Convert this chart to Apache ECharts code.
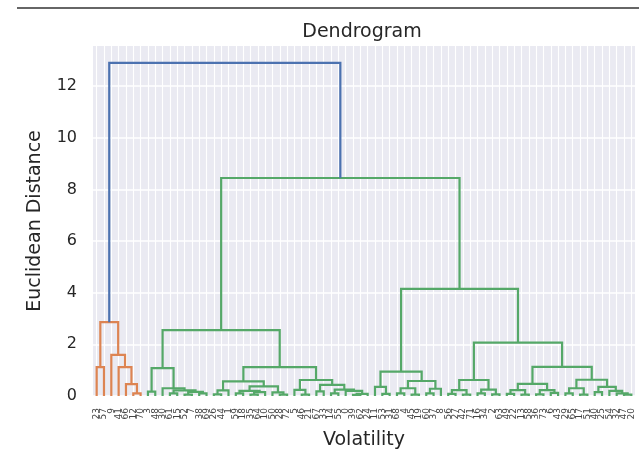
<!DOCTYPE html>
<html>
<head>
<meta charset="utf-8">
<script src="https://cdn.jsdelivr.net/npm/echarts@6/dist/echarts.min.js"></script>
<style>
  html, body { margin: 0; padding: 0; background: #fff; }
  #main { width: 639px; height: 456px; }
</style>
</head>
<body>
<div id="main"></div>
<script>
  // linkage as [height, left, right]; a leaf is the index of the observation
  const orangeCluster = [2.86,
    [1.12, 23, 57],
    [1.59, 9, [1.12, 41, [0.46, 66, [0.1, 12, 70]]]]];

  const greenLeft = [2.55,
    [1.08, [0.17, 3, 48], [0.3, 30, [0.22, [0.1, 61, 15], [0.16, [0.05, 52, 7], [0.1, 38, 69]]]]],
    [1.12,
      [0.57, [0.22, [0.06, 26, 44], 1],
             [0.37, [0.2, [0.1, 59, 18], [0.15, [0.05, 35, 64], 10]], [0.14, 50, [0.05, 28, 72]]]],
      [0.62, [0.24, 5, [0.05, 46, 21]],
             [0.43, [0.18, 67, 33], [0.25, [0.1, 14, 55], [0.2, 0, [0.08, [0.04, 39, 62], 24]]]]]]];

  const greenRight = [4.15,
    [0.94, [0.35, 11, [0.08, 53, 31]],
           [0.58, [0.3, [0.1, 68, 4], [0.05, 45, 19]], [0.28, [0.1, 60, 37], 8]]],
    [2.07,
      [0.62, [0.23, [0.08, 56, 27], [0.05, 42, 71]], [0.25, [0.1, 16, 34], [0.06, 2, 63]]],
      [1.13,
        [0.47, [0.23, [0.08, 49, 22], [0.05, 13, 58]], [0.23, [0.06, 36, 73], [0.12, 6, 43]]],
        [0.63, [0.3, [0.1, 29, 65], [0.05, 17, 51]],
               [0.35, [0.15, 40, 25], [0.2, 54, [0.1, 32, [0.05, 47, 20]]]]]]]];

  const greenHeight = 8.44;
  const rootHeight = 12.9;
  const yMax = 13.55;
  const yTicks = [0, 2, 4, 6, 8, 10, 12];

  const clusterColors = ['#dd8452', '#55a868'];
  const aboveColor = '#4c72b0';
  const threshold = 0.7 * rootHeight;
  const font = 'DejaVu Sans';

  // same layout as scipy: leaf i sits at 10*i + 5
  const leafOrder = [];
  const links = [];
  let colorIdx = 0;
  function walk(node, color) {
    if (!Array.isArray(node)) {
      leafOrder.push(String(node));
      return { x: 10 * leafOrder.length - 5, y: 0 };
    }
    const h = node[0];
    let c = color;
    if (!c && h < threshold) c = clusterColors[colorIdx++ % clusterColors.length];
    const a = walk(node[1], c);
    const b = walk(node[2], c);
    links.push({
      coords: [[a.x, a.y], [a.x, h], [b.x, h], [b.x, b.y]],
      lineStyle: { color: c || aboveColor }
    });
    return { x: (a.x + b.x) / 2, y: h };
  }
  walk([rootHeight, orangeCluster, [greenHeight, greenLeft, greenRight]], null);

  const chart = echarts.init(document.getElementById('main'));
  chart.setOption({
    backgroundColor: '#fff',
    animation: false,
    title: {
      text: 'Dendrogram',
      left: 357,
      top: 18,
      textAlign: 'center',
      textStyle: { fontFamily: font, fontSize: 19, fontWeight: 'normal', color: '#262626' }
    },
    graphic: [{
      type: 'line',
      shape: { x1: 17, y1: 8, x2: 639, y2: 8 },
      style: { stroke: '#333', lineWidth: 1.5 }
    }],
    grid: {
      left: 93, right: 4, top: 46, bottom: 60,
      show: true, backgroundColor: '#eaeaf2', borderWidth: 0
    },
    xAxis: [{
      type: 'category',
      data: leafOrder,
      boundaryGap: true,
      name: 'Volatility',
      nameLocation: 'middle',
      nameGap: 35,
      nameTextStyle: { fontFamily: font, fontSize: 19, color: '#262626' },
      axisLine: { show: false },
      axisTick: { show: false, alignWithLabel: true },
      axisLabel: { interval: 0, rotate: 90, fontSize: 9, margin: 12, color: '#444', fontFamily: font },
      splitLine: { show: true, interval: 0, alignWithLabel: true, lineStyle: { color: '#fff', width: 1.1 } }
    }, {
      type: 'value',
      min: 0,
      max: 10 * leafOrder.length,
      show: false
    }],
    yAxis: {
      type: 'value',
      min: 0,
      max: yMax,
      interval: 2,
      name: 'Euclidean Distance',
      nameLocation: 'middle',
      nameGap: 48,
      nameTextStyle: { fontFamily: font, fontSize: 19, color: '#262626' },
      axisLine: { show: false },
      axisTick: { show: false },
      axisLabel: {
        showMaxLabel: false,
        margin: 16,
        fontSize: 16,
        color: '#262626',
        fontFamily: font,
        formatter: v => (yTicks.indexOf(v) >= 0 ? String(v) : '')
      },
      splitLine: { show: true, showMaxLine: false, lineStyle: { color: '#fff', width: 1.5 } }
    },
    series: [{
      type: 'lines',
      coordinateSystem: 'cartesian2d',
      xAxisIndex: 1,
      yAxisIndex: 0,
      polyline: true,
      silent: true,
      z: 3,
      lineStyle: { width: 2.2, opacity: 1 },
      data: links
    }]
  });
</script>
</body>
</html>
